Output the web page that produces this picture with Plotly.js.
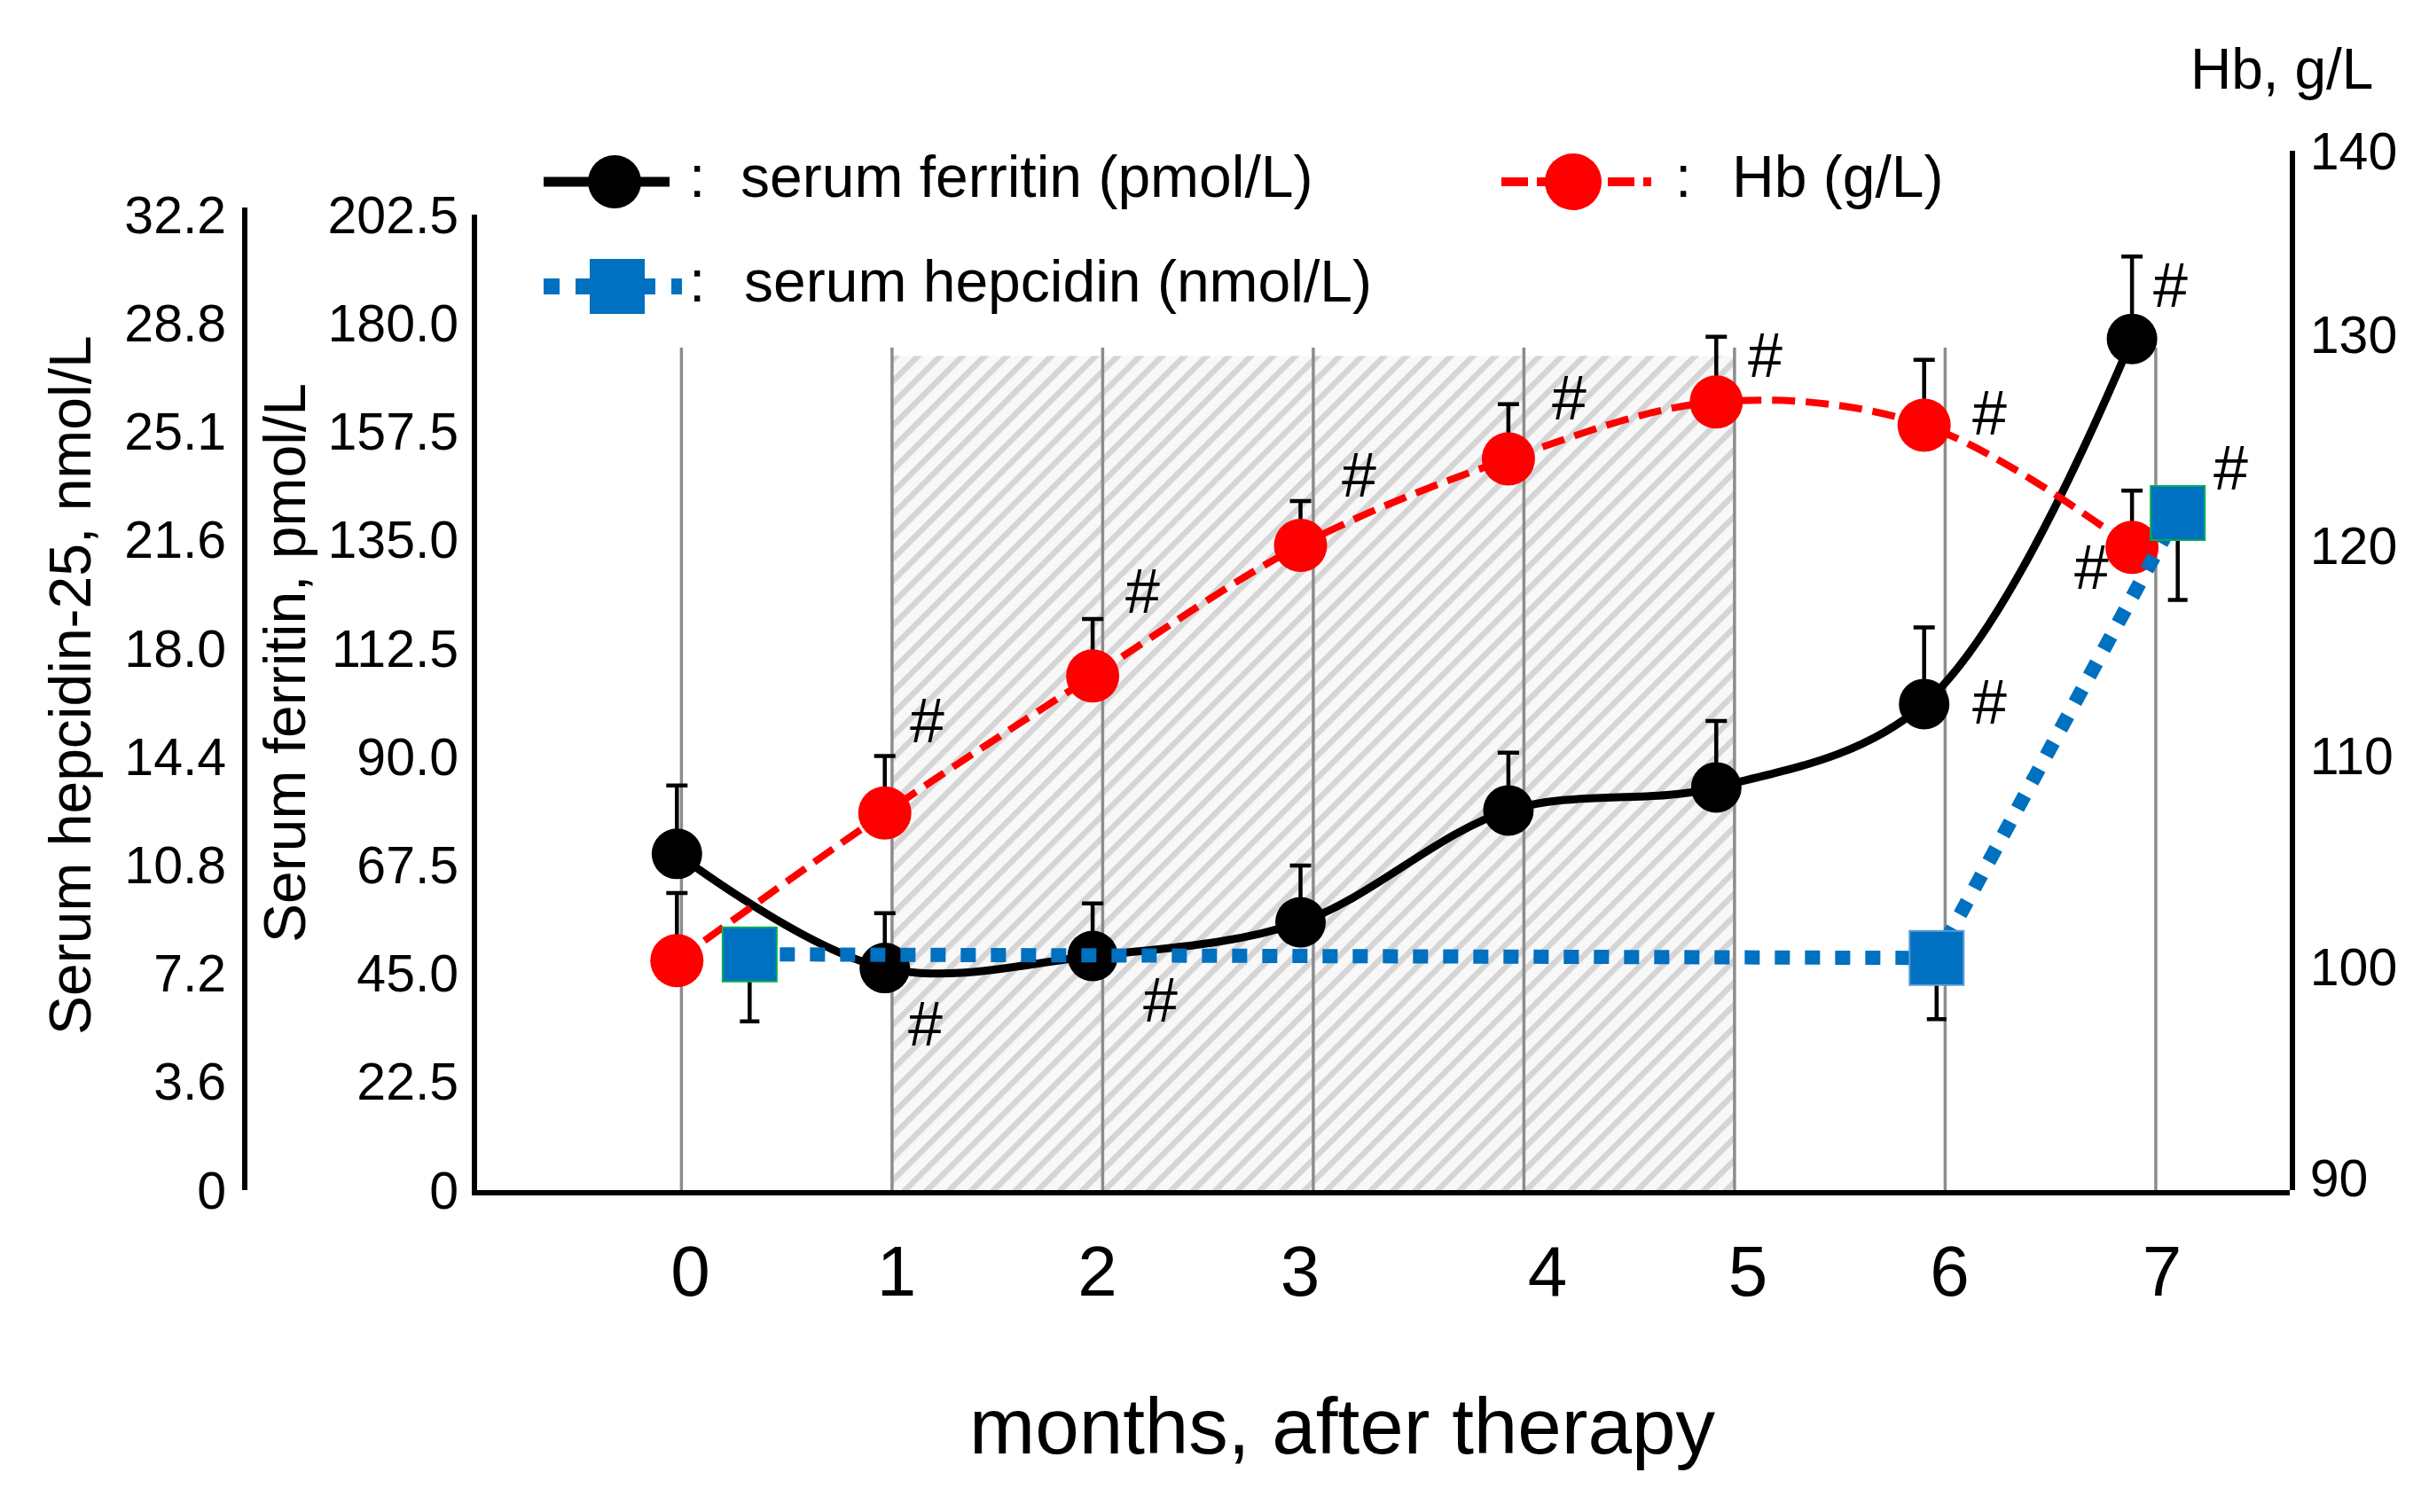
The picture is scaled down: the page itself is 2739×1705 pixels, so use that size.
<!DOCTYPE html>
<html>
<head>
<meta charset="utf-8">
<script src="https://cdn.plot.ly/plotly-3.0.1.min.js"></script>
<style>html,body{margin:0;padding:0;background:#fff;}#chart{width:2739px;height:1705px;}</style>
</head>
<body>
<div id="chart"></div>
<script>
// ---------------- data ----------------
const months = [0, 1, 2, 3, 4, 5, 6, 7];
const monthLabels = ["0", "1", "2", "3", "4", "5", "6", "7"];
const ferritin = [69.8, 46.1, 48.6, 55.6, 78.8, 83.6, 100.9, 176.7];
const ferritinErr = [14.2, 11.4, 10.9, 11.8, 12.0, 13.8, 15.9, 17.1];
const hb = [100.3, 107.3, 113.8, 120.0, 124.1, 126.8, 125.7, 119.9];
const hbErr = [3.2, 2.7, 2.7, 2.1, 2.6, 3.1, 3.1, 2.7];
const hepcidinX = [0.35, 6.06, 7.22];
const hepcidin = [7.83, 7.71, 22.49];
const hepcidinErr = [2.23, 2.03, 2.89];
const therapyMonths = [1, 5];

const ferritinTickVals = [0, 22.5, 45, 67.5, 90, 112.5, 135, 157.5, 180, 202.5];
const ferritinTickText = ["0", "22.5", "45.0", "67.5", "90.0", "112.5", "135.0", "157.5", "180.0", "202.5"];
const hepcidinTickVals = [0, 3.6, 7.2, 10.8, 14.4, 18, 21.6, 25.2, 28.8, 32.4];
const hepcidinTickText = ["0", "3.6", "7.2", "10.8", "14.4", "18.0", "21.6", "25.1", "28.8", "32.2"];
const hbTickVals = [90, 100, 110, 120, 130, 138.7];
const hbTickText = ["90", "100", "110", "120", "130", "140"];
const monthLabelPos = [0.065, 1.057, 2.023, 2.998, 4.188, 5.152, 6.123, 7.145];

// significance marks: which point, and offset of the "#" in px
const sigMarks = [
  {s: "hb", i: 1, dx: 48, dy: 104}, {s: "hb", i: 2, dx: 56, dy: 95},
  {s: "hb", i: 3, dx: 66, dy: 79}, {s: "hb", i: 4, dx: 69, dy: 68},
  {s: "hb", i: 5, dx: 55, dy: 52}, {s: "hb", i: 6, dx: 74, dy: 13},
  {s: "hb", i: 7, dx: -46, dy: -23},
  {s: "fer", i: 1, dx: 46, dy: -63}, {s: "fer", i: 2, dx: 76, dy: -50},
  {s: "fer", i: 6, dx: 74, dy: 2}, {s: "fer", i: 7, dx: 43, dy: 60},
  {s: "hep", i: 2, dx: 60, dy: 50}
];

// ---------------- layout geometry ----------------
const W = 2739, H = 1705;
const M = {l: 200, r: 157, t: 170, b: 363};
const plotW = W - M.l - M.r, plotH = H - M.t - M.b;
const pX = px => (px - M.l) / plotW;
const pY = py => (H - M.b - py) / plotH;
const FONT = "Liberation Sans, Arial, Helvetica, sans-serif";
const BLUE = "#0070c0", RED = "#ff0000";
const hatchTop = 173.2, gridTop = 174.9;
// x-axis pixel mapping (points) and the slightly wider spacing of the grid
const X0PX = 763.3, XSTEP = 234.4;
const GRID0PX = 768.4, GRIDSTEP = 237.5;
const gridToX = m => (GRID0PX + GRIDSTEP * m - X0PX) / XSTEP;

const zeros = n => new Array(n).fill(0);

const traces = [];
traces.push({
  x: months, y: ferritin, xaxis: "x", yaxis: "y", name: "serum ferritin (pmol/L)",
  mode: "lines+markers", cliponaxis: false,
  line: {color: "black", width: 9, shape: "spline", smoothing: 1},
  marker: {color: "black", size: 57, symbol: "circle"},
  error_y: {type: "data", symmetric: false, array: ferritinErr, arrayminus: zeros(8), color: "black", thickness: 4.5, width: 12}
});
traces.push({
  x: months, y: hb, xaxis: "x", yaxis: "y2", name: "Hb (g/L)",
  mode: "lines+markers", cliponaxis: false,
  line: {color: RED, width: 8, shape: "spline", smoothing: 1, dash: "26px,12px"},
  marker: {color: RED, size: 60, symbol: "circle"},
  error_y: {type: "data", symmetric: false, array: hbErr, arrayminus: zeros(8), color: "black", thickness: 4.5, width: 12}
});
traces.push({
  x: hepcidinX, y: hepcidin, xaxis: "x", yaxis: "y3", name: "serum hepcidin (nmol/L)",
  mode: "lines+markers", cliponaxis: false,
  line: {color: BLUE, width: 16, dash: "17px,17px"},
  marker: {color: BLUE, size: 61, symbol: "square", line: {color: ["#00b050", "#5b9bd5", "#00b050"], width: 2}},
  error_y: {type: "data", symmetric: false, array: zeros(3), arrayminus: hepcidinErr, color: "black", thickness: 4.5, width: 11}
});

// custom legend (pixel coordinates on hidden axes x3/y4)
const legendItems = [
  {text: "serum ferritin (pmol/L)", x0: 613, x1: 755, xm: 693, y: 205, color: "black", dash: "solid", width: 11, symbol: "circle", size: 60, colonX: 786, textX: 833},
  {text: "Hb (g/L)", x0: 1693, x1: 1862, xm: 1774, y: 205, color: RED, dash: "30px,10px", width: 10, symbol: "circle", size: 64, colonX: 1898, textX: 1951},
  {text: "serum hepcidin (nmol/L)", x0: 613, x1: 769, xm: 696, y: 323, color: BLUE, dash: "18px,18px", width: 18, symbol: "square", size: 62, colonX: 786, textX: 837}
];
legendItems.forEach(it => {
  traces.push({x: [it.x0, it.x1], y: [it.y, it.y], xaxis: "x3", yaxis: "y4", mode: "lines", showlegend: false, hoverinfo: "skip",
    line: {color: it.color, width: it.width, dash: it.dash}});
  traces.push({x: [it.xm], y: [it.y], xaxis: "x3", yaxis: "y4", mode: "markers", showlegend: false, hoverinfo: "skip",
    marker: {color: it.color, size: it.size, symbol: it.symbol}});
});

// annotations
const annotations = [];
legendItems.forEach(it => {
  annotations.push({xref: "paper", yref: "paper", x: pX(it.colonX), y: pY(it.y - 6), text: ":", showarrow: false,
    xanchor: "center", yanchor: "middle", font: {family: FONT, size: 66, color: "black"}});
  annotations.push({xref: "paper", yref: "paper", x: pX(it.textX), y: pY(it.y - 6), text: it.text, showarrow: false,
    xanchor: "left", yanchor: "middle", font: {family: FONT, size: 66, color: "black"}});
});
const seriesRef = {
  fer: {x: months, y: ferritin, yref: "y"},
  hb: {x: months, y: hb, yref: "y2"},
  hep: {x: hepcidinX, y: hepcidin, yref: "y3"}
};
sigMarks.forEach(m => {
  const s = seriesRef[m.s];
  annotations.push({xref: "x", yref: s.yref, x: s.x[m.i], y: s.y[m.i], text: "#", showarrow: false,
    xanchor: "center", yanchor: "middle", xshift: m.dx, yshift: m.dy,
    font: {family: FONT, size: 70, color: "black"}});
});
// titles
annotations.push({xref: "paper", yref: "paper", x: pX(1514), y: pY(1608), text: "months, after therapy", showarrow: false,
  xanchor: "center", yanchor: "middle", font: {family: FONT, size: 89, color: "black"}});
annotations.push({xref: "paper", yref: "paper", x: pX(321), y: pY(748), text: "Serum ferritin, pmol/L", showarrow: false, textangle: -90,
  xanchor: "center", yanchor: "middle", font: {family: FONT, size: 66, color: "black"}});
annotations.push({xref: "paper", yref: "paper", x: pX(79), y: pY(773), text: "Serum hepcidin-25, nmol/L", showarrow: false, textangle: -90,
  xanchor: "center", yanchor: "middle", font: {family: FONT, size: 66, color: "black"}});
annotations.push({xref: "paper", yref: "paper", x: pX(2573), y: pY(78), text: "Hb, g/L", showarrow: false,
  xanchor: "center", yanchor: "middle", font: {family: FONT, size: 64, color: "black"}});

// vertical gridlines
const shapes = months.map(m => ({type: "line", xref: "x", yref: "y", x0: gridToX(m), x1: gridToX(m), y0: 0, y1: gridTop,
  line: {color: "#8c8c8c", width: 3.5}, layer: "between"}));

// hatched therapy period
const hx0 = gridToX(therapyMonths[0]), hx1 = gridToX(therapyMonths[1]);
const hw = 950, hh = 941, per = 17.7;
const svg = `<svg xmlns="http://www.w3.org/2000/svg" width="${hw}" height="${hh}" viewBox="0 0 ${hw} ${hh}" preserveAspectRatio="none"><defs><pattern id="h" width="${per}" height="${per}" patternUnits="userSpaceOnUse" patternTransform="rotate(45)"><rect width="${per}" height="${per}" fill="#f8f8f8"/><rect width="6.5" height="${per}" fill="#d5d5d5"/></pattern></defs><rect width="${hw}" height="${hh}" fill="url(#h)"/></svg>`;
const images = [{
  source: "data:image/svg+xml;charset=utf-8," + encodeURIComponent(svg),
  xref: "x", yref: "y", x: hx0, y: hatchTop,
  sizex: hx1 - hx0, sizey: hatchTop,
  xanchor: "left", yanchor: "top", sizing: "stretch", layer: "below"
}];

const xDomStart = pX(538);
const layout = {
  width: W, height: H, margin: M, showlegend: false,
  paper_bgcolor: "white", plot_bgcolor: "rgba(0,0,0,0)",
  font: {family: FONT, color: "black"},
  xaxis: {domain: [xDomStart, 1], range: [(538 - X0PX) / XSTEP, (2582 - X0PX) / XSTEP], anchor: "y",
    showline: true, linecolor: "black", linewidth: 6, showgrid: false, zeroline: false,
    ticks: "", tickmode: "array", tickvals: monthLabelPos, ticktext: monthLabels,
    tickfont: {family: FONT, size: 80, color: "black"}, ticklabelstandoff: 17},
  xaxis3: {domain: [0, 1], anchor: "y4", range: [M.l, W - M.r], visible: false},
  yaxis: {domain: [0, pY(242)], range: [0, 202.5], anchor: "x", side: "left",
    showline: true, linecolor: "black", linewidth: 6, showgrid: false, zeroline: false,
    ticks: "", tickmode: "array", tickvals: ferritinTickVals, ticktext: ferritinTickText,
    tickfont: {family: FONT, size: 59, color: "black"}, ticklabelstandoff: 3},
  yaxis2: {domain: [0, 1], range: [89.41, 138.72], anchor: "x", side: "right",
    showline: true, linecolor: "black", linewidth: 6, showgrid: false, zeroline: false,
    ticks: "", tickmode: "array", tickvals: hbTickVals, ticktext: hbTickText,
    tickfont: {family: FONT, size: 59, color: "black"}, ticklabelstandoff: 5},
  yaxis3: {domain: [0, pY(234)], range: [0, 32.635], anchor: "free", position: pX(276), side: "left",
    showline: true, linecolor: "black", linewidth: 6, showgrid: false, zeroline: false,
    ticks: "", tickmode: "array", tickvals: hepcidinTickVals, ticktext: hepcidinTickText,
    tickfont: {family: FONT, size: 59, color: "black"}, ticklabelstandoff: 6},
  yaxis4: {domain: [0, 1], anchor: "x3", range: [H - M.b, M.t], visible: false},
  shapes: shapes, images: images, annotations: annotations
};

Plotly.newPlot("chart", traces, layout, {staticPlot: true, displayModeBar: false});
</script>
</body>
</html>
